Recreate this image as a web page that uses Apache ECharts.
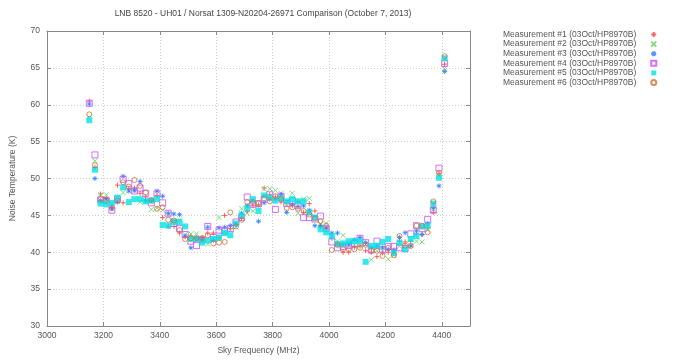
<!DOCTYPE html>
<html>
<head>
<meta charset="utf-8">
<script src="https://cdn.jsdelivr.net/npm/echarts@6/dist/echarts.min.js"></script>
<style>html,body{margin:0;padding:0;background:#fff;}#c{width:678px;height:360px;}</style>
</head>
<body>
<div id="c"></div>
<script>
const titleText = 'LNB 8520 - UH01 / Norsat 1309-N20204-26971 Comparison (October 7, 2013)';
const seriesNames = [
  'Measurement #1 (03Oct/HP8970B)',
  'Measurement #2 (03Oct/HP8970B)',
  'Measurement #3 (03Oct/HP8970B)',
  'Measurement #4 (03Oct/HP8970B)',
  'Measurement #5 (03Oct/HP8970B)',
  'Measurement #6 (03Oct/HP8970B)'
];
const freqs = [3150,3170,3190,3210,3230,3250,3270,3290,3310,3330,3350,3370,3390,3410,3430,3450,3470,3490,3510,3530,3550,3570,3590,3610,3630,3650,3670,3690,3710,3730,3750,3770,3790,3810,3830,3850,3870,3890,3910,3930,3950,3970,3990,4010,4030,4050,4070,4090,4110,4130,4150,4170,4190,4210,4230,4250,4270,4290,4310,4330,4350,4370,4390,4410];
const m1 = [60.5,51.5,47.9,47.3,46.1,49.1,46.7,48.6,48.7,48.0,47.5,47.0,47.7,44.7,43.5,43.5,42.6,42.1,42.2,41.9,42.0,42.6,42.6,42.0,45.0,43.2,43.8,44.6,45.5,46.3,46.4,48.7,47.8,47.5,46.8,46.7,46.3,46.9,45.4,46.6,45.6,43.6,43.2,41.9,41.1,40.0,40.0,40.7,40.8,40.2,40.0,39.4,39.9,40.0,40.2,41.5,41.4,41.5,42.5,42.4,43.3,45.4,50.7,65.5];
const m2 = [58.3,52.4,47.8,47.8,46.6,46.9,48.1,48.3,48.3,46.8,47.0,45.8,46.0,45.7,45.1,44.3,44.4,42.4,42.5,42.5,41.7,41.1,41.8,44.7,42.8,43.0,43.4,45.9,45.3,45.6,46.3,48.6,48.6,48.4,48.0,46.8,48.0,45.3,47.2,47.3,44.8,43.9,43.9,42.2,41.5,42.3,41.3,41.0,40.9,41.1,39.0,40.2,40.2,39.05,39.6,40.8,41.0,40.9,41.5,41.4,43.0,45.8,50.4,64.9];
const m3 = [60.1,50.0,47.0,47.2,45.9,46.8,50.3,48.3,48.4,49.6,47.0,47.0,48.3,47.6,45.3,45.2,45.1,42.2,40.6,41.9,41.7,43.4,41.6,43.3,43.4,43.6,43.8,45.3,46.3,46.9,44.2,46.7,47.2,47.2,47.8,45.4,46.5,46.2,46.3,45.7,43.6,43.5,43.3,42.6,42.6,41.0,41.0,41.7,42.0,41.3,40.6,40.8,40.6,40.4,40.3,42.0,42.65,40.85,42.9,42.4,43.9,46.0,49.0,64.5];
const m4 = [60.2,53.2,47.1,47.0,45.7,47.2,49.9,49.3,48.3,48.7,48.0,46.7,47.9,46.7,45.3,43.9,43.2,42.4,41.5,40.9,41.7,43.5,42.0,43.0,42.9,43.2,44.1,44.7,47.5,46.5,46.6,47.2,47.8,45.8,47.6,46.6,47.0,46.3,44.7,44.7,44.5,44.9,43.2,41.4,40.6,40.8,40.9,41.2,41.9,41.3,40.3,41.5,40.4,40.8,40.8,40.6,40.5,42.5,43.6,43.2,44.45,45.7,51.4,65.6];
const m5 = [57.9,51.2,46.6,46.5,46.7,47.4,48.8,46.8,47.2,47.2,46.9,47.0,47.2,43.7,43.6,44.1,44.1,43.5,41.8,41.8,41.3,41.6,41.8,42.0,42.6,42.3,43.9,45.0,46.0,47.2,45.6,47.7,47.4,47.0,47.3,46.9,47.2,46.9,46.9,45.4,44.7,43.1,42.7,42.2,41.1,41.2,41.5,41.5,41.5,38.7,40.85,40.9,41.4,41.8,39.9,41.3,40.4,41.8,42.2,43.5,43.6,46.6,50.1,66.3];
const m6 = [58.7,51.8,47.2,47.1,46.0,47.0,49.5,48.9,49.8,49.0,48.1,47.1,45.9,46.1,44.4,44.3,43.0,41.8,41.9,41.9,41.9,42.3,41.2,41.3,41.4,45.4,43.5,44.4,46.8,46.8,46.6,47.3,46.9,47.6,47.2,46.0,46.1,45.9,45.6,45.1,44.6,44.2,43.6,40.3,41.0,40.4,40.4,40.4,40.6,41.0,40.2,40.2,39.5,40.6,39.6,42.2,40.9,40.85,43.6,43.6,42.7,46.9,50.8,66.6];
const xTicks = [3000,3200,3400,3600,3800,4000,4200,4400];
const yTicks = [30,35,40,45,50,55,60,65,70];

const allValues = [m1,m2,m3,m4,m5,m6];
const colors = ['#ff3b3b','#5ed45e','#2f7cff','#c94dff','#00e3e3','#d0703a'];
const symbols = [
  'path://M5,0L5,10M0,5L10,5',
  'path://M0,0L10,10M10,0L0,10',
  'path://M5,0L5,10M0,5L10,5M1.5,1.5L8.5,8.5M8.5,1.5L1.5,8.5',
  'rect',
  'rect',
  'circle'
];
const sizes = [5,5,5,6,6,5];
const filled = [false,false,false,false,true,false];

const FONT = '"Liberation Sans", Arial, sans-serif';
const TXT = '#555';

const series = allValues.map((vals, k) => ({
  name: seriesNames[k],
  type: 'scatter',
  data: freqs.map((f, i) => [f, vals[i]]),
  symbol: symbols[k],
  symbolSize: sizes[k],
  itemStyle: filled[k]
    ? { color: colors[k], borderColor: colors[k], borderWidth: 0 }
    : { color: 'transparent', borderColor: colors[k], borderWidth: 1 },
  emphasis: { disabled: true },
  animation: false
}));

const chart = echarts.init(document.getElementById('c'), null, { renderer: 'canvas' });
const axisCommon = {
  axisLine: { show: true, lineStyle: { color: '#888', width: 1 } },
  axisTick: { show: true, inside: true, length: 4, lineStyle: { color: '#888' } }
};
chart.setOption({
  backgroundColor: '#fff',
  animation: false,
  title: {
    text: titleText,
    left: 258, top: 4, textAlign: 'center',
    textStyle: { fontFamily: FONT, fontSize: 8.5, fontWeight: 'normal', color: '#444' }
  },
  legend: {
    orient: 'vertical',
    left: 498, top: 25,
    align: 'right',
    itemWidth: 5, itemHeight: 5, itemGap: 0.6,
    textStyle: { fontFamily: FONT, fontSize: 8.5, color: TXT, padding: [0, 10, 0, 0] },
    data: seriesNames
  },
  grid: { left: 44.5, right: 208, top: 31, bottom: 32.5, containLabel: false },
  xAxis: [
    Object.assign({
      type: 'value', position: 'bottom', min: 3000, max: 4500, interval: 200,
      name: 'Sky Frequency (MHz)', nameLocation: 'middle', nameGap: 20,
      nameTextStyle: { fontFamily: FONT, fontSize: 8.5, color: TXT },
      axisLabel: { fontFamily: FONT, fontSize: 8.5, color: TXT, margin: 5, showMaxLabel: false,
        formatter: v => (xTicks.indexOf(v) >= 0 ? String(v) : '') },
      splitLine: { show: true, lineStyle: { color: '#cfcfcf', type: [1, 2], width: 1 } }
    }, axisCommon),
    Object.assign({
      type: 'value', position: 'top', min: 3000, max: 4500, interval: 200,
      axisLabel: { show: false }, splitLine: { show: false }
    }, axisCommon)
  ],
  yAxis: [
    Object.assign({
      type: 'value', position: 'left', min: 30, max: 70, interval: 5,
      name: 'Noise Temperature (K)', nameLocation: 'middle', nameGap: 30,
      nameTextStyle: { fontFamily: FONT, fontSize: 8.5, color: TXT },
      axisLabel: { fontFamily: FONT, fontSize: 8.5, color: TXT, margin: 7,
        formatter: v => (yTicks.indexOf(v) >= 0 ? String(v) : '') },
      splitLine: { show: true, lineStyle: { color: '#cfcfcf', type: [1, 2], width: 1 } }
    }, axisCommon),
    Object.assign({
      type: 'value', position: 'right', min: 30, max: 70, interval: 5,
      axisLabel: { show: false }, splitLine: { show: false }
    }, axisCommon)
  ],
  series: series
});
</script>
</body>
</html>
